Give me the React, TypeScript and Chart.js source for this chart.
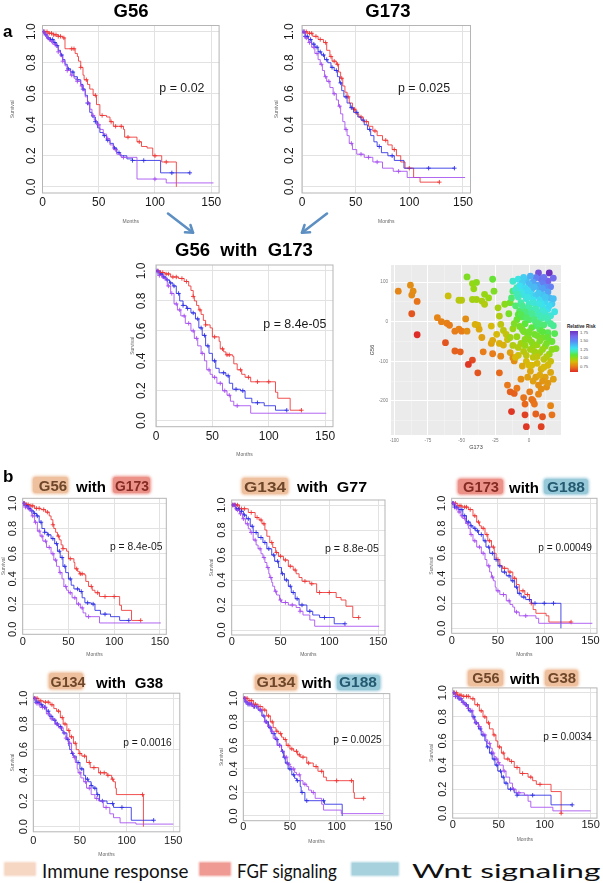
import React, { useEffect, useLayoutEffect, useRef, useState } from 'react';
import { Chart, registerables } from 'chart.js';

Chart.register(...registerables);
const SANS = '"Liberation Sans", Arial, Helvetica, sans-serif';
Chart.defaults.font.family = SANS;

type Pt = [number, number];

// ---------- Kaplan–Meier curves: [month, survival after the drop] ----------
// G56
const g56Red: Pt[] = [[0,1],[5,0.99],[10,0.98],[14,0.97],[18,0.96],[20,0.89],[29,0.86],[31,0.84],[32,0.81],[34,0.77],[36,0.72],[37,0.69],[40,0.66],[42,0.63],[45,0.59],[48,0.53],[51,0.46],[57,0.45],[60,0.42],[63,0.39],[72,0.37],[73,0.32],[84,0.29],[88,0.26],[93,0.25],[98,0.2],[106,0.16],[119,0]];
const g56Blue: Pt[] = [[0,1],[2,0.98],[4,0.96],[7,0.95],[10,0.93],[12,0.91],[14,0.88],[16,0.85],[18,0.82],[20,0.79],[22,0.76],[25,0.74],[28,0.71],[31,0.69],[34,0.66],[36,0.63],[38,0.59],[40,0.54],[42,0.48],[44,0.45],[47,0.42],[49,0.38],[51,0.35],[54,0.33],[57,0.3],[60,0.28],[63,0.25],[66,0.22],[69,0.2],[75,0.18],[80,0.17],[105,0.09],[131,0.09]];
const g56Purple: Pt[] = [[0,1],[2,0.98],[4,0.96],[6,0.94],[9,0.92],[12,0.9],[14,0.87],[16,0.84],[18,0.81],[20,0.78],[22,0.75],[25,0.72],[28,0.7],[31,0.68],[34,0.65],[36,0.62],[38,0.58],[40,0.54],[42,0.5],[44,0.46],[46,0.43],[48,0.4],[51,0.37],[54,0.34],[57,0.31],[60,0.27],[63,0.24],[66,0.21],[70,0.19],[84,0.05],[110,0.025],[152,0.025]];
const g56RedC = [2,4,6,8,10,12,14,16,19,26,28,34,39,47,53,61,65,70,76,86,100,110];
const g56BlueC = [1,3,5,7,9,11,13,17,23,27,31,36,40,47,55,58,64,68,80,90,115,131];
const g56PurpleC = [1,3,5,8,11,14,18,22,26,31,35,41,45,50,58,65,72,100];

// G173
const g173Red: Pt[] = [[0,1],[5,0.99],[10,0.97],[15,0.95],[20,0.93],[23,0.88],[26,0.84],[28,0.81],[32,0.79],[34,0.74],[36,0.7],[38,0.65],[40,0.61],[42,0.58],[44,0.54],[47,0.5],[50,0.47],[53,0.45],[57,0.42],[62,0.39],[66,0.36],[70,0.33],[75,0.3],[80,0.27],[84,0.24],[88,0.2],[92,0.16],[96,0.12],[104,0.06],[110,0.03],[128,0.03]];
const g173Blue: Pt[] = [[0,1],[3,0.97],[6,0.95],[9,0.92],[12,0.9],[15,0.87],[18,0.85],[21,0.82],[24,0.8],[27,0.77],[30,0.75],[33,0.71],[35,0.67],[37,0.62],[39,0.58],[42,0.54],[45,0.51],[48,0.48],[52,0.45],[55,0.43],[58,0.4],[61,0.37],[64,0.33],[67,0.29],[70,0.26],[74,0.22],[80,0.2],[86,0.17],[95,0.12],[142,0.12]];
const g173Purple: Pt[] = [[0,1],[3,0.96],[6,0.93],[9,0.9],[12,0.86],[15,0.82],[17,0.79],[19,0.75],[21,0.71],[23,0.68],[26,0.64],[29,0.6],[32,0.56],[34,0.52],[36,0.47],[38,0.42],[40,0.37],[42,0.33],[44,0.28],[47,0.24],[51,0.21],[58,0.19],[66,0.16],[75,0.12],[85,0.1],[98,0.06],[152,0.06]];
const g173RedC = [2,4,7,9,13,17,22,27,30,33,37,43,49,55,60,68,78,86,100,128];
const g173BlueC = [1,3,5,8,11,14,17,20,23,28,32,36,41,46,51,57,63,72,84,118,142];
const g173PurpleC = [2,4,7,11,14,18,22,25,30,35,41,46,55,62,70,90];

// G56 with G173
const comboRed: Pt[] = [[0,1],[4,0.99],[8,0.98],[13,0.96],[20,0.95],[25,0.93],[29,0.9],[31,0.87],[33,0.83],[34,0.8],[36,0.77],[38,0.74],[40,0.71],[42,0.67],[44,0.64],[48,0.62],[50,0.56],[56,0.53],[57,0.48],[60,0.46],[62,0.44],[68,0.43],[69,0.38],[72,0.34],[76,0.31],[79,0.29],[84,0.26],[106,0.19],[108,0.15],[119,0.07],[129,0.07]];
const comboBlue: Pt[] = [[0,1],[3,0.98],[6,0.96],[9,0.94],[12,0.92],[15,0.9],[18,0.85],[21,0.8],[24,0.77],[27,0.75],[31,0.72],[35,0.68],[38,0.62],[41,0.57],[44,0.5],[47,0.45],[50,0.4],[53,0.35],[56,0.32],[62,0.3],[65,0.25],[68,0.21],[75,0.2],[79,0.15],[85,0.12],[96,0.1],[106,0.07],[116,0.07]];
const comboPurple: Pt[] = [[0,1],[3,0.97],[6,0.95],[10,0.9],[13,0.85],[16,0.78],[19,0.74],[22,0.7],[26,0.65],[31,0.6],[34,0.55],[37,0.5],[40,0.45],[43,0.4],[45,0.34],[48,0.31],[50,0.29],[54,0.25],[59,0.2],[63,0.17],[66,0.13],[69,0.1],[84,0.05],[151,0.05]];
const comboRedC = [2,4,6,9,11,15,18,23,27,33,39,44,52,59,63,65,75,82,90,100,129];
const comboBlueC = [1,3,5,7,10,13,16,20,24,28,33,37,40,43,46,52,60,64,71,77,90,116];
const comboPurpleC = [1,3,5,8,11,14,18,21,25,29,33,36,41,47,52,57,61,65,72];

// G134 with G77
const g134g77Red: Pt[] = [[0,1],[8,0.97],[17,0.94],[24,0.9],[28,0.88],[31,0.85],[34,0.8],[36,0.75],[39,0.7],[42,0.66],[45,0.62],[48,0.59],[53,0.56],[58,0.51],[63,0.48],[66,0.45],[69,0.42],[72,0.39],[80,0.37],[87,0.3],[107,0.26],[112,0.24],[117,0.19],[124,0.1],[130,0.1]];
const g134g77Blue: Pt[] = [[0,1],[4,0.97],[8,0.95],[12,0.92],[15,0.89],[19,0.83],[22,0.78],[27,0.74],[32,0.7],[36,0.65],[41,0.6],[44,0.55],[48,0.5],[51,0.45],[54,0.4],[58,0.35],[61,0.3],[65,0.25],[69,0.2],[77,0.15],[83,0.12],[90,0.1],[105,0.05],[116,0.05]];
const g134g77Purple: Pt[] = [[0,1],[4,0.96],[8,0.93],[11,0.89],[14,0.85],[17,0.81],[19,0.78],[22,0.72],[25,0.68],[27,0.65],[30,0.61],[32,0.58],[34,0.54],[36,0.5],[38,0.45],[39,0.42],[41,0.38],[42,0.35],[44,0.31],[46,0.28],[49,0.24],[51,0.22],[58,0.2],[66,0.18],[70,0.15],[73,0.12],[80,0.08],[85,0.03],[151,0.03]];
const g134g77RedC = [2,4,6,10,13,20,26,30,33,41,46,50,55,60,65,75,82,90,100,130];
const g134g77BlueC = [1,3,5,7,10,13,17,21,25,30,34,38,43,47,52,56,60,63,67,72,80,95,116];
const g134g77PurpleC = [1,3,6,9,12,16,20,24,29,33,37,40,45,50,55,62,70];

// G173 with G188
const g173g188Red: Pt[] = [[0,1],[6,0.98],[11,0.97],[18,0.95],[23,0.9],[27,0.85],[30,0.82],[32,0.8],[36,0.75],[39,0.7],[43,0.65],[46,0.6],[48,0.55],[52,0.5],[55,0.48],[61,0.45],[66,0.4],[70,0.35],[73,0.3],[79,0.27],[84,0.23],[86,0.2],[88,0.15],[91,0.12],[102,0.1],[105,0.05],[129,0.05]];
const g173g188Blue: Pt[] = [[0,1],[3,0.97],[7,0.95],[12,0.9],[16,0.85],[20,0.82],[23,0.8],[26,0.78],[29,0.75],[34,0.7],[37,0.65],[41,0.6],[46,0.55],[50,0.5],[54,0.45],[59,0.42],[64,0.38],[68,0.33],[71,0.28],[75,0.25],[80,0.23],[86,0.2],[118,0]];
const g173g188Purple: Pt[] = [[0,1],[4,0.96],[7,0.93],[10,0.9],[12,0.88],[15,0.84],[18,0.8],[20,0.75],[23,0.7],[27,0.65],[32,0.6],[36,0.55],[38,0.5],[41,0.45],[43,0.41],[45,0.38],[47,0.33],[48,0.3],[52,0.27],[59,0.22],[63,0.19],[66,0.17],[68,0.13],[73,0.1],[91,0.08],[94,0.04],[152,0.04]];
const g173g188RedC = [2,4,8,10,14,16,20,25,29,34,38,41,45,50,57,63,68,77,82,86,129];
const g173g188BlueC = [1,3,5,9,11,14,18,21,25,28,32,36,40,44,48,52,57,62,66,70,73,78,84,90,100,110];
const g173g188PurpleC = [2,5,8,11,14,17,21,25,30,34,40,44,50,56,62,70,80];

// G134 with G38
const g134g38Red: Pt[] = [[0,1],[6,0.98],[11,0.97],[18,0.95],[22,0.92],[25,0.9],[29,0.85],[32,0.8],[36,0.75],[39,0.7],[43,0.65],[46,0.6],[49,0.57],[52,0.55],[57,0.5],[61,0.46],[70,0.42],[79,0.4],[84,0.37],[86,0.35],[88,0.3],[89,0.25],[118,0]];
const g134g38Blue: Pt[] = [[0,1],[3,0.97],[7,0.95],[10,0.93],[14,0.9],[17,0.86],[21,0.83],[24,0.8],[27,0.78],[30,0.75],[32,0.73],[36,0.68],[38,0.63],[39,0.6],[41,0.57],[43,0.55],[46,0.5],[50,0.45],[54,0.4],[56,0.37],[59,0.35],[62,0.32],[64,0.3],[68,0.25],[71,0.2],[79,0.18],[86,0.15],[105,0.05],[129,0.05]];
const g134g38Purple: Pt[] = [[0,1],[3,0.96],[7,0.93],[14,0.88],[18,0.84],[23,0.8],[27,0.77],[32,0.73],[35,0.69],[38,0.65],[41,0.58],[43,0.54],[45,0.5],[47,0.45],[48,0.42],[51,0.38],[54,0.35],[57,0.3],[62,0.25],[66,0.22],[70,0.2],[75,0.15],[82,0.1],[86,0.07],[93,0.03],[110,0.02],[150,0.02]];
const g134g38RedC = [2,4,8,13,16,20,27,31,34,38,41,45,50,55,60,65,72,76,80,85,117];
const g134g38BlueC = [1,3,5,9,12,16,19,23,26,29,33,37,42,48,52,58,62,66,69,74,85,95,129];
const g134g38PurpleC = [1,4,6,10,13,16,20,25,30,35,39,44,50,56,60,68,78];

// G134 with G188
const g134g188Red: Pt[] = [[0,1],[5,0.98],[11,0.95],[16,0.93],[21,0.9],[25,0.85],[29,0.8],[32,0.75],[35,0.72],[38,0.7],[41,0.67],[43,0.65],[46,0.6],[50,0.57],[54,0.55],[58,0.52],[61,0.5],[68,0.45],[75,0.42],[80,0.38],[86,0.33],[89,0.3],[118,0.2],[119,0.15],[129,0.15]];
const g134g188Blue: Pt[] = [[0,1],[2,0.97],[5,0.95],[10,0.93],[16,0.9],[20,0.85],[23,0.8],[27,0.75],[30,0.7],[34,0.65],[37,0.6],[41,0.55],[43,0.5],[45,0.45],[48,0.4],[52,0.35],[55,0.32],[57,0.3],[61,0.25],[62,0.2],[66,0.13],[87,0.1],[106,0]];
const g134g188Purple: Pt[] = [[0,1],[2,0.97],[5,0.95],[10,0.93],[16,0.9],[20,0.85],[23,0.8],[26,0.76],[29,0.72],[32,0.66],[36,0.6],[41,0.55],[44,0.5],[47,0.44],[50,0.42],[52,0.4],[55,0.37],[57,0.35],[61,0.3],[64,0.27],[68,0.25],[70,0.22],[73,0.2],[77,0.15],[84,0.1],[86,0.05],[105,0.02],[150,0.02]];
const g134g188RedC = [2,4,7,9,13,18,23,27,31,36,40,45,48,52,57,60,64,70,78,84,100,116,129];
const g134g188BlueC = [1,3,5,7,9,12,14,18,22,25,29,33,36,39,42,44,47,50,54,58,63,68,86];
const g134g188PurpleC = [1,3,6,8,11,15,19,24,28,31,35,39,46,49,54,60,66,75];

// G56 with G38
const g56g38Red: Pt[] = [[0,1],[5,0.98],[10,0.97],[19,0.95],[24,0.9],[29,0.85],[33,0.8],[37,0.75],[40,0.7],[44,0.65],[47,0.6],[49,0.55],[53,0.5],[56,0.45],[62,0.43],[67,0.38],[73,0.33],[82,0.3],[87,0.27],[91,0.24],[107,0.18],[118,0]];
const g56g38Blue: Pt[] = [[0,1],[3,0.97],[6,0.95],[10,0.92],[13,0.9],[17,0.85],[21,0.8],[24,0.75],[28,0.7],[31,0.65],[35,0.6],[37,0.55],[40,0.5],[43,0.45],[46,0.4],[49,0.35],[53,0.3],[56,0.25],[60,0.2],[67,0.17],[70,0.15],[107,0.07],[130,0.07]];
const g56g38Purple: Pt[] = [[0,1],[3,0.97],[6,0.95],[10,0.92],[13,0.9],[16,0.87],[19,0.85],[22,0.78],[25,0.75],[28,0.72],[31,0.68],[33,0.65],[36,0.61],[38,0.58],[41,0.54],[43,0.5],[45,0.47],[47,0.45],[49,0.42],[51,0.4],[55,0.35],[58,0.3],[62,0.25],[65,0.2],[69,0.17],[78,0.15],[82,0.1],[85,0.05],[109,0.02],[150,0.02]];
const g56g38RedC = [2,4,7,9,12,15,17,22,27,31,35,39,45,51,55,60,64,70,76,85,95,118];
const g56g38BlueC = [1,3,5,7,9,12,15,19,23,26,30,33,38,42,45,48,52,55,58,63,70,87,130];
const g56g38PurpleC = [1,3,5,8,11,14,17,21,25,29,35,40,44,48,50,56,66,72];

// ---------- axis ticks ----------
const monthTicks = [0, 50, 100, 150];
const survTicks = [0, 0.2, 0.4, 0.6, 0.8, 1.0];
const g173Major = [-100, -75, -50, -25, 0];
const g173Minor = [-87.5, -62.5, -37.5, -12.5, 12.5];
const g56Major = [-200, -100, 0, 100];
const g56Minor = [-250, -150, -50, 50];
const riskLabels = ['1.75', '1.50', '1.25', '1.00', '0.75'];

// ---------- scatter: [G173, G56, relative risk] ----------
const scatterPts: [number, number, number][] = [
  [-97,77,0.78],[-88,92,0.8],[-86,77,0.8],[-87,67,0.79],[-83,51,0.74],[-87,20,0.68],[-83,-33,0.6],
  [-60,65,0.92],[-68,10,0.78],[-65,0,0.77],[-61,-4,0.77],[-59,-9,0.76],[-62,-53,0.68],[-55,-74,0.7],[-51,-76,0.7],
  [-55,-24,0.76],[-52,-19,0.77],[-50,-24,0.76],[-47,7,0.8],[-52,54,0.95],[-50,54,0.95],[-46,-24,0.8],
  [-42,-97,0.66],[-45,-108,0.62],[-38,-129,0.68],
  [-46,113,1.04],[-42,96,1.0],[-39,99,1.02],[-41,83,1.0],[-42,56,0.98],[-39,56,0.98],[-35,52,0.97],[-33,69,1.0],[-30,60,1.0],
  [-40,-7,0.88],[-38,-9,0.88],[-37,-19,0.86],[-35,-40,0.84],[-34,-76,0.76],[-27,-81,0.76],[-22,-129,0.72],
  [-27,107,1.08],[-26,77,1.04],[-33,44,0.96],[-28,-11,0.9],[-28,-55,0.84],[-27,-47,0.86],[-24,-32,0.9],[-22,-55,0.88],[-19,-59,0.88],[-21,-87,0.78],
  [-23,35,0.98],[-22,14,0.96],[-21,-7,0.94],[-19,-22,0.94],[-17,-32,0.93],[-16,-45,0.92],[-18,44,1.02],[-14,48,1.05],
  [-12,102,1.25],[-8,107,1.28],[-9,86,1.2],[-12,77,1.15],
  [-16,-160,0.75],[-14,-177,0.7],[-11,-181,0.7],[-13,-227,0.62],[-9,-168,0.75],[-14,-78,0.85],[-12,-91,0.8],[-11,-99,0.8],
  [-6,-145,0.8],[-4,-192,0.74],[-3,-208,0.72],[-3,-235,0.64],[-2,-265,0.62],[0.5,-177,0.76],[2,-196,0.74],[3,-200,0.74],[4,-208,0.74],[5,-233,0.7],[9,-265,0.64],[10,-240,0.68],[7,-183,0.78],[9,-170,0.8],[16,-212,0.78],[17,-235,0.74],
  [7,123,1.7],[15,123,1.8],[14,102,1.65],[16,88,1.55],[9,107,1.6],[5,111,1.55],[10,98,1.55],[3,100,1.45],[-2,105,1.38],[-5,98,1.35],[0,95,1.4],[6,92,1.45],[12,88,1.5],[-7,90,1.3],[-3,85,1.32],[2,82,1.38],[8,80,1.42],[14,75,1.45],[-10,80,1.25],[-6,75,1.28],
  [-4,68,1.28],[1,70,1.32],[5,66,1.35],[10,68,1.38],[15,60,1.4],[-8,62,1.22],[-2,58,1.26],[3,55,1.3],[8,55,1.32],[12,50,1.33],[17,45,1.35],[-6,48,1.2],[0,45,1.24],[5,42,1.26],[-10,40,1.15],[10,38,1.28],[14,32,1.3],[-3,35,1.2],
  [2,30,1.22],[7,25,1.24],[-7,27,1.14],[-1,22,1.18],[12,20,1.25],[16,15,1.26],[4,15,1.2],[-5,12,1.12],[9,8,1.2],[-9,5,1.08],[0,5,1.14],[14,2,1.2],[5,-2,1.15],[-3,-5,1.1],[11,-8,1.15],[18,-10,1.18],[-7,-12,1.05],[2,-15,1.1],[8,-20,1.12],
  [-12,-18,1.0],[-4,-25,1.05],[14,-28,1.12],[4,-32,1.06],[-9,-38,1.0],[10,-40,1.06],[0,-45,1.02],[17,-50,1.08],[-6,-55,0.98],[6,-58,1.0],[-12,-60,0.96],[12,-62,1.02],[1,-70,0.98],[-4,-75,0.95],[8,-78,0.98],[15,-82,1.0],[20,-68,1.04],
  [-8,-85,0.92],[3,-90,0.94],[11,-95,0.94],[-2,-100,0.9],[6,-105,0.9],[14,-110,0.9],[-5,-112,0.86],[9,-120,0.88],[1,-125,0.86],[16,-128,0.86],[12,-140,0.84],[5,-140,0.84],[10,-150,0.82],[18,-145,0.84],[7,-160,0.8],[13,-165,0.8],
  [-1,-35,1.04],[6,-10,1.14],[-8,18,1.1],[13,-55,1.05],[3,-60,1.0],[-10,-90,0.9],[-14,-40,0.98],[-15,20,1.05],[-13,60,1.15],[19,25,1.28],[19,-30,1.12],[-1,-140,0.84],[2,-110,0.9],[11,-115,0.9],[16,-100,0.92],[-3,-60,1.0],[9,45,1.3],[-1,78,1.32],[4,-75,0.98],[-11,-5,1.04],
  [1,115,1.42],[11,112,1.58],[-4,112,1.35],[18,110,1.62],[4,88,1.4],[10,84,1.45],[-9,70,1.22],[7,72,1.36],[12,62,1.36],[18,58,1.38],[-1,62,1.28],[3,48,1.26],[7,45,1.28],[15,40,1.32],[-5,40,1.18],
  [0,35,1.2],[5,32,1.22],[10,28,1.26],[-3,25,1.16],[2,20,1.18],[8,15,1.22],[-6,18,1.12],[13,10,1.22],[-2,10,1.14],[4,5,1.16],[7,-5,1.15],[16,-5,1.18],[-5,-20,1.05],[0,-25,1.06],[10,-25,1.1],
  [6,-35,1.06],[14,-40,1.08],[-3,-45,1.02],[8,-48,1.04],[2,-52,1.02],[-8,-65,0.96],[10,-70,1.0],[17,-70,1.02],[-2,-85,0.94],[6,-88,0.94],[13,-88,0.96],[0,-110,0.9],[8,-135,0.86],[14,-155,0.82],[3,-150,0.84]
];

// ---------- styles ----------
const RED = 'rgba(238,50,50,0.85)';
const BLUE = 'rgba(45,45,228,0.85)';
const PURPLE = 'rgba(165,75,240,0.85)';
const riskStops: [number, [number, number, number]][] = [
  [0.6,[222,45,38]],[0.75,[232,120,25]],[0.9,[215,185,10]],[1.0,[150,215,20]],[1.1,[90,230,60]],
  [1.2,[70,235,170]],[1.3,[60,225,240]],[1.5,[90,140,245]],[1.65,[120,100,235]],[1.8,[110,50,190]]
];
function riskColor(v: number) {
  if (v <= riskStops[0][0]) return `rgb(${riskStops[0][1].join(',')})`;
  for (let i = 1; i < riskStops.length; i++) {
    const [v1, c1] = riskStops[i];
    const [v0, c0] = riskStops[i - 1];
    if (v <= v1) {
      const f = (v - v0) / (v1 - v0);
      const c = c0.map((a, k) => Math.round(a + (c1[k] - a) * f));
      return `rgb(${c.join(',')})`;
    }
  }
  return `rgb(${riskStops[riskStops.length - 1][1].join(',')})`;
}

function survivalAt(curve: Pt[], t: number) {
  let s = 1;
  for (const [ti, si] of curve) { if (ti <= t) s = si; else break; }
  return s;
}

const boxPlugin = {
  id: 'rbox',
  beforeDatasetsDraw(chart: any) {
    const { ctx, chartArea: a } = chart;
    ctx.save();
    ctx.strokeStyle = '#b5b5b5';
    ctx.lineWidth = 1;
    ctx.strokeRect(a.left, a.top, a.right - a.left, a.bottom - a.top);
    ctx.restore();
  }
};

const ggBg = {
  id: 'ggbg',
  beforeDraw(chart: any) {
    const { ctx, chartArea: a } = chart;
    ctx.save();
    ctx.fillStyle = '#ebebeb';
    ctx.fillRect(a.left, a.top, a.right - a.left, a.bottom - a.top);
    ctx.restore();
  }
};

type KMProps = {
  box: [number, number, number, number];
  yw: number; xh: number; tick: number; yPad: number; xPad: number; padR?: number;
  red: Pt[]; blue: Pt[]; purple: Pt[];
  redC: number[]; blueC: number[]; purpleC: number[];
};

function KM(p: KMProps) {
  const ref = useRef<HTMLCanvasElement>(null);
  const padT = 14;
  const [l, t, r, b] = p.box;
  const left = Math.round(l - p.yw);
  const top = Math.round(t - padT);
  const yW = l - left;
  const pT = t - top;
  const width = Math.round(r + (p.padR ?? 8)) - left;
  const pR = left + width - r;
  const height = Math.round(b + p.xh) - top;
  const xH = top + height - b;
  useEffect(() => {
    const line = (c: Pt[], col: string) => ({
      type: 'line', data: c.map(([x, y]) => ({ x, y })), stepped: 'before',
      borderColor: col, borderWidth: 1, pointRadius: 0, fill: false, tension: 0
    });
    const cens = (c: Pt[], ts: number[], col: string) => ({
      type: 'line', data: ts.map((x) => ({ x, y: survivalAt(c, x) })), showLine: false,
      pointStyle: 'cross', pointRadius: 2.2, pointBorderWidth: 1, pointBorderColor: col,
      borderColor: col, backgroundColor: col
    });
    const chart = new Chart(ref.current as HTMLCanvasElement, {
      type: 'line',
      data: {
        datasets: [
          line(p.purple, PURPLE), line(p.blue, BLUE), line(p.red, RED),
          cens(p.purple, p.purpleC, PURPLE), cens(p.blue, p.blueC, BLUE), cens(p.red, p.redC, RED)
        ] as any
      },
      options: {
        responsive: false, animation: false, events: [],
        layout: { padding: { top: pT, right: pR, left: 0, bottom: 0 } },
        plugins: { legend: { display: false }, tooltip: { enabled: false } },
        scales: {
          x: {
            type: 'linear', min: 0, max: 157,
            afterBuildTicks: (s: any) => { s.ticks = monthTicks.map((v) => ({ value: v })); },
            ticks: { font: { size: p.tick }, color: '#1a1a1a', padding: p.xPad, maxRotation: 0, autoSkip: false },
            grid: { color: '#e2e2e2', lineWidth: 1, drawTicks: false },
            border: { display: false },
            title: { display: true, text: 'Months', font: { size: 5 }, color: '#666', padding: 0 },
            afterFit: (s: any) => { s.height = xH; }
          },
          y: {
            type: 'linear', min: -0.04, max: 1.04,
            afterBuildTicks: (s: any) => { s.ticks = survTicks.map((v) => ({ value: v })); },
            ticks: {
              font: { size: p.tick }, color: '#1a1a1a', padding: p.yPad, minRotation: 90, maxRotation: 90,
              crossAlign: 'center', autoSkip: false, callback: (v: any) => Number(v).toFixed(1)
            },
            grid: { color: '#e2e2e2', lineWidth: 1, drawTicks: false },
            border: { display: false },
            title: { display: true, text: 'Survival', font: { size: 5 }, color: '#666', padding: 0 },
            afterFit: (s: any) => { s.width = yW; }
          }
        }
      } as any,
      plugins: [boxPlugin]
    });
    return () => chart.destroy();
  }, []);
  return <canvas ref={ref} width={width} height={height} style={{ position: 'absolute', left, top, width, height }} />;
}

function RiskScatter() {
  const ref = useRef<HTMLCanvasElement>(null);
  const [l, t, r, b] = [391, 265, 561, 435];
  const left = 369, top = 259;
  const width = Math.round(r + 4) - left;
  const height = Math.round(b + 16) - top;
  useEffect(() => {
    const gridColor = (c: any) => (c.tick && c.tick.major ? '#ffffff' : '#f7f7f7');
    const gridWidth = (c: any) => (c.tick && c.tick.major ? 1 : 0.5);
    const chart = new Chart(ref.current as HTMLCanvasElement, {
      type: 'scatter',
      data: {
        datasets: [{
          data: scatterPts.map(([x, y]) => ({ x, y })),
          backgroundColor: scatterPts.map((d) => riskColor(d[2])),
          borderColor: scatterPts.map((d) => riskColor(d[2])),
          pointRadius: 3.4, pointBorderWidth: 0
        }]
      },
      options: {
        responsive: false, animation: false, events: [],
        layout: { padding: { top: t - top, right: left + width - r, left: 0, bottom: 0 } },
        plugins: { legend: { display: false }, tooltip: { enabled: false } },
        scales: {
          x: {
            type: 'linear', min: -102.4, max: 23.7,
            afterBuildTicks: (s: any) => {
              s.ticks = [...g173Major.map((v) => ({ value: v, major: true })), ...g173Minor.map((v) => ({ value: v, major: false }))]
                .sort((a, c) => a.value - c.value);
            },
            ticks: { font: { size: 4.6 }, color: '#7a7a7a', padding: 3, maxRotation: 0, autoSkip: false,
              callback: (v: any, i: number, ts: any[]) => (ts[i] && ts[i].major ? String(v) : '') },
            grid: { color: gridColor, lineWidth: gridWidth, drawTicks: false },
            border: { display: false },
            title: { display: true, text: 'G173', font: { size: 5.5 }, color: '#444', padding: 0 },
            afterFit: (s: any) => { s.height = top + height - b; }
          },
          y: {
            type: 'linear', min: -286, max: 143,
            afterBuildTicks: (s: any) => {
              s.ticks = [...g56Major.map((v) => ({ value: v, major: true })), ...g56Minor.map((v) => ({ value: v, major: false }))]
                .sort((a, c) => a.value - c.value);
            },
            ticks: { font: { size: 4.6 }, color: '#7a7a7a', padding: 3, autoSkip: false,
              callback: (v: any, i: number, ts: any[]) => (ts[i] && ts[i].major ? String(v) : '') },
            grid: { color: gridColor, lineWidth: gridWidth, drawTicks: false },
            border: { display: false },
            title: { display: true, text: 'G56', font: { size: 5.5 }, color: '#444', padding: 0 },
            afterFit: (s: any) => { s.width = l - left; }
          }
        }
      } as any,
      plugins: [ggBg]
    });
    return () => chart.destroy();
  }, []);
  const grad = riskStops.map(([v, c]) => `rgb(${c.join(',')}) ${((v - 0.6) / 1.2 * 100).toFixed(1)}%`).join(',');
  return (
    <>
      <canvas ref={ref} width={width} height={height} style={{ position: 'absolute', left, top, width, height }} />
      <Txt x={567} y={327} size={4.6} bold color="#222">Relative Risk</Txt>
      <div style={{ position: 'absolute', left: 570, top: 330.5, width: 8, height: 41, background: `linear-gradient(to top, ${grad})` }} />
      {riskLabels.map((s, i) => (
        <Txt key={s} x={580} y={332.5 + i * 8.5} size={4.2} color="#555">{s}</Txt>
      ))}
    </>
  );
}

function Txt({ x, y, size, bold, color = '#111', align = 'left', w, family = SANS, children }: any) {
  const ref = useRef<HTMLSpanElement>(null);
  const [sx, setSx] = useState(1);
  useLayoutEffect(() => {
    if (w && ref.current) {
      const n = ref.current.offsetWidth;
      if (n) setSx(w / n);
    }
  }, [w]);
  const tx = align === 'center' ? '-50%' : '0';
  return (
    <span ref={ref} style={{
      position: 'absolute', left: x, top: y, fontSize: size, fontWeight: bold ? 700 : 400, color,
      fontFamily: family, lineHeight: 1, whiteSpace: 'pre',
      transform: `translate(${tx},-50%) scaleX(${sx})`, transformOrigin: align === 'center' ? '50% 50%' : '0 50%'
    }}>{children}</span>
  );
}

const PEACH = { bg: '#efc09e', fg: '#6e4629' };
const SALMON = { bg: '#ec9188', fg: '#862a24' };
const TEAL = { bg: '#97c9d9', fg: '#245a70' };

function Tag({ box, c, tx, ty, w, children }: any) {
  const [x1, y1, x2, y2] = box;
  return (
    <>
      <div style={{ position: 'absolute', left: x1, top: y1, width: x2 - x1, height: y2 - y1, background: c.bg, borderRadius: 3, boxShadow: `0 0 3px 1px ${c.bg}` }} />
      <Txt x={tx} y={ty} size={15.5} bold color={c.fg} align="center" w={w}>{children}</Txt>
    </>
  );
}

function Arrows() {
  const arrows = [[168, 213.5, 193, 232.7], [327, 213.5, 302, 232.7]];
  return (
    <svg style={{ position: 'absolute', left: 0, top: 0 }} width={603} height={300}>
      {arrows.map(([x1, y1, x2, y2], i) => {
        const ang = Math.atan2(y2 - y1, x2 - x1);
        const h = 8, a = 0.6;
        const p1 = [x2 - h * Math.cos(ang - a), y2 - h * Math.sin(ang - a)];
        const p2 = [x2 - h * Math.cos(ang + a), y2 - h * Math.sin(ang + a)];
        return (
          <g key={i} stroke="#5d8fc2" strokeWidth={2.6} fill="none" strokeLinecap="round" strokeLinejoin="round">
            <line x1={x1} y1={y1} x2={x2} y2={y2} />
            <polyline points={`${p1[0]},${p1[1]} ${x2},${y2} ${p2[0]},${p2[1]}`} />
          </g>
        );
      })}
    </svg>
  );
}

const LEG_FONT = "Lato, 'Open Sans', sans-serif";

export default function App() {
  return (
    <div style={{ position: 'absolute', left: 0, top: 0, width: 603, height: 883, overflow: 'hidden', background: '#fff', fontFamily: SANS }}>
      {/* panel a */}
      <KM box={[42.5, 25.5, 219.1, 193]} yw={32.2} xh={32} tick={12} yPad={2.5} xPad={2.8}
        red={g56Red} blue={g56Blue} purple={g56Purple} redC={g56RedC} blueC={g56BlueC} purpleC={g56PurpleC} />
      <KM box={[302, 25.5, 470.5, 193]} yw={27.7} xh={32} tick={12} yPad={4.4} xPad={2.8}
        red={g173Red} blue={g173Blue} purple={g173Purple} redC={g173RedC} blueC={g173BlueC} purpleC={g173PurpleC} />
      <KM box={[156, 265, 333, 426.7]} yw={26} xh={31.3} tick={12} yPad={5.5} xPad={2.8}
        red={comboRed} blue={comboBlue} purple={comboPurple} redC={comboRedC} blueC={comboBlueC} purpleC={comboPurpleC} />
      <RiskScatter />

      {/* panel b */}
      <KM box={[22.7, 498.3, 166.3, 634.3]} yw={21.7} xh={23.7} tick={11} yPad={1.8} xPad={0.8} padR={6}
        red={comboRed} blue={comboBlue} purple={comboPurple} redC={comboRedC} blueC={comboBlueC} purpleC={comboPurpleC} />
      <KM box={[231.7, 500, 385, 635]} yw={23} xh={23} tick={11} yPad={1.8} xPad={0.3} padR={6}
        red={g134g77Red} blue={g134g77Blue} purple={g134g77Purple} redC={g134g77RedC} blueC={g134g77BlueC} purpleC={g134g77PurpleC} />
      <KM box={[451.7, 498.3, 597.2, 633.3]} yw={23} xh={24.7} tick={11} yPad={1.8} xPad={0.8} padR={5}
        red={g173g188Red} blue={g173g188Blue} purple={g173g188Purple} redC={g173g188RedC} blueC={g173g188BlueC} purpleC={g173g188PurpleC} />
      <KM box={[33.3, 693.2, 179.8, 831.8]} yw={23} xh={26.2} tick={11} yPad={1.8} xPad={2.6} padR={6}
        red={g134g38Red} blue={g134g38Blue} purple={g134g38Purple} redC={g134g38RedC} blueC={g134g38BlueC} purpleC={g134g38PurpleC} />
      <KM box={[243.3, 693.6, 389.8, 820.7]} yw={24.6} xh={24} tick={11} yPad={1.8} xPad={0} padR={6}
        red={g134g188Red} blue={g134g188Blue} purple={g134g188Purple} redC={g134g188RedC} blueC={g134g188BlueC} purpleC={g134g188PurpleC} />
      <KM box={[452.7, 687.9, 598.2, 818.1]} yw={24} xh={25} tick={11} yPad={1.8} xPad={0.3} padR={4}
        red={g56g38Red} blue={g56g38Blue} purple={g56g38Purple} redC={g56g38RedC} blueC={g56g38BlueC} purpleC={g56g38PurpleC} />

      <Arrows />

      {/* panel a text */}
      <Txt x={3} y={31} size={17} bold color="#000">a</Txt>
      <Txt x={131} y={11} size={18.5} bold align="center" color="#000">G56</Txt>
      <Txt x={388} y={11} size={18.5} bold align="center" color="#000">G173</Txt>
      <Txt x={159.3} y={87.5} size={12.4} color="#1a1a1a">p = 0.02</Txt>
      <Txt x={398} y={87.5} size={12.4} color="#1a1a1a">p = 0.025</Txt>
      <Txt x={244} y={250} size={18.5} bold align="center" color="#000">{'G56  with  G173'}</Txt>
      <Txt x={263.3} y={324} size={12.4} color="#1a1a1a">p = 8.4e-05</Txt>

      {/* panel b text */}
      <Txt x={3} y={476} size={17} bold color="#000">b</Txt>

      <Tag box={[33.3, 477.3, 68.3, 493.3]} c={PEACH} tx={53} ty={486} w={28}>G56</Tag>
      <Txt x={91} y={486} size={15} bold align="center" color="#000">with</Txt>
      <Tag box={[113.3, 477.3, 150, 493.3]} c={SALMON} tx={132} ty={486} w={34}>G173</Tag>
      <Txt x={110} y={547.3} size={10.3} color="#1a1a1a">p = 8.4e-05</Txt>

      <Tag box={[241.7, 478, 288.3, 494]} c={PEACH} tx={265} ty={486.5} w={42}>G134</Tag>
      <Txt x={312.5} y={487} size={15.5} bold align="center" color="#000">with</Txt>
      <Txt x={351.7} y={487} size={15.5} bold align="center" color="#000" w={30}>G77</Txt>
      <Txt x={325} y={548.3} size={10.6} color="#1a1a1a">p = 8.8e-05</Txt>

      <Tag box={[458.3, 479, 503.3, 494]} c={SALMON} tx={481} ty={487} w={36}>G173</Tag>
      <Txt x={524} y={487} size={15} bold align="center" color="#000">with</Txt>
      <Tag box={[544, 479, 588.3, 494]} c={TEAL} tx={566} ty={487} w={38}>G188</Tag>
      <Txt x={538.3} y={548.3} size={10.1} color="#1a1a1a">p = 0.00049</Txt>

      <Tag box={[49.3, 673, 83.3, 689]} c={PEACH} tx={67.5} ty={681.7} w={35}>G134</Tag>
      <Txt x={111} y={681.7} size={15} bold align="center" color="#000">with</Txt>
      <Txt x={149} y={681.7} size={15} bold align="center" color="#000" w={28}>G38</Txt>
      <Txt x={123.3} y={742.7} size={10.2} color="#1a1a1a">p = 0.0016</Txt>

      <Tag box={[255, 675, 296.7, 689.5]} c={PEACH} tx={276} ty={682} w={39}>G134</Tag>
      <Txt x={316.7} y={682} size={15} bold align="center" color="#000">with</Txt>
      <Tag box={[336.7, 675, 380, 689.5]} c={TEAL} tx={358} ty={682} w={38}>G188</Tag>
      <Txt x={333.3} y={740} size={10.2} color="#1a1a1a">p = 0.0025</Txt>

      <Tag box={[468.3, 670, 503.3, 685.5]} c={PEACH} tx={486} ty={678} w={27}>G56</Tag>
      <Txt x={525} y={678} size={15} bold align="center" color="#000">with</Txt>
      <Tag box={[545, 670, 578.3, 685.5]} c={PEACH} tx={561.7} ty={678} w={28}>G38</Tag>
      <Txt x={543.3} y={737.3} size={10.2} color="#1a1a1a">p = 0.0034</Txt>

      {/* bottom legend */}
      <div style={{ position: 'absolute', left: 5, top: 863, width: 30, height: 12, background: '#f6d7c4', boxShadow: '0 0 2px 1px #f6d7c4' }} />
      <Txt x={42} y={869.5} size={20} family={LEG_FONT} color="#111" w={146}>Immune response</Txt>
      <div style={{ position: 'absolute', left: 200, top: 863, width: 30, height: 12, background: '#ef9b93', boxShadow: '0 0 2px 1px #ef9b93' }} />
      <Txt x={237} y={869.5} size={20} family={LEG_FONT} color="#111" w={100}>FGF signaling</Txt>
      <div style={{ position: 'absolute', left: 352, top: 863, width: 46, height: 12, background: '#a8d1de', boxShadow: '0 0 2px 1px #a8d1de' }} />
      <Txt x={412} y={869.5} size={20} family={LEG_FONT} color="#111" w={188}>Wnt signaling</Txt>
    </div>
  );
}
